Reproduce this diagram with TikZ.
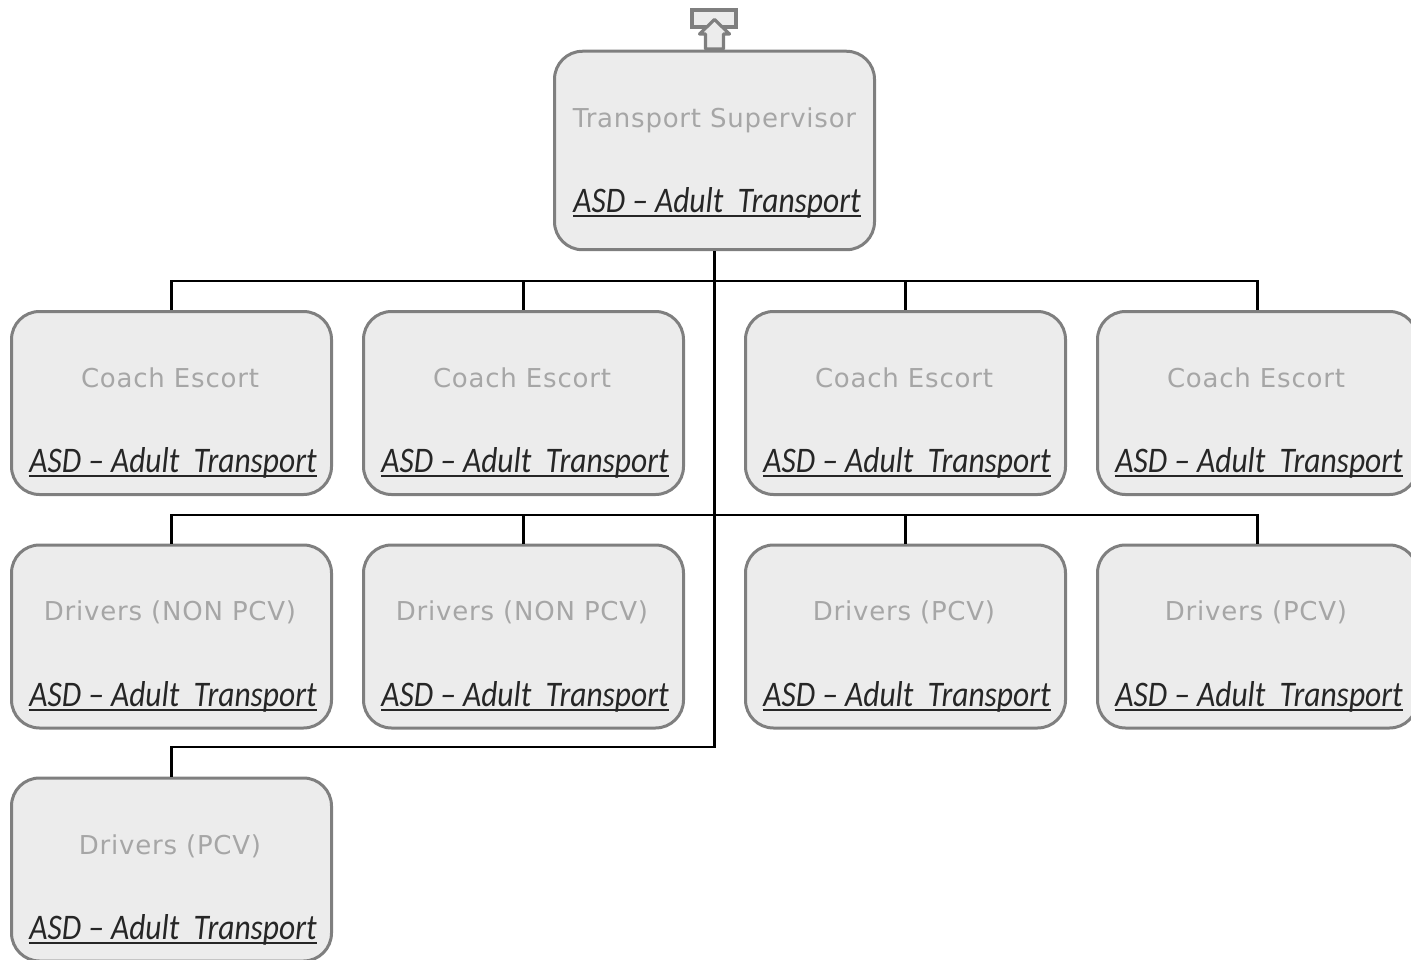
\documentclass[tikz,border=0pt]{standalone}
\usepackage{fontspec}
\usetikzlibrary{positioning}
\newfontfamily\titlefont[LetterSpace=3]{DejaVu Sans}
\newfontfamily\deptfont[FakeStretch=0.875]{Carlito}
\definecolor{boxfill}{RGB}{236,236,236}
\definecolor{boxgray}{RGB}{127,127,127}
\definecolor{titlegray}{RGB}{166,166,166}
\definecolor{deptgray}{RGB}{38,38,38}
\newsavebox{\deptbox}
\newcommand{\dept}{\sbox{\deptbox}{ASD – Adult\ \ Transport}\rlap{\rule[-4pt]{\wd\deptbox}{1.8pt}}\usebox{\deptbox}}
\tikzstyle{link} = [line width=2.8pt,color=black,line join=miter]
\tikzstyle{staff} = [rectangle, rounded corners=28pt, minimum width=320pt, minimum height=183pt, inner sep=0pt, draw=boxgray, fill=boxfill, line width=3pt]

\begin{document}
\begin{tikzpicture}[x=1pt, y=1pt,
    title/.style={inner sep=0pt, text=titlegray, font=\titlefont\fontsize{26}{30}\selectfont},
    deptname/.style={inner sep=0pt, text=deptgray, font=\deptfont\itshape\fontsize{36}{40}\selectfont},
    tray/.style={rectangle, draw=boxgray, fill=boxfill, line width=3.2pt, inner sep=0pt, minimum width=44pt, minimum height=17pt}]

\clip (0,0) rectangle (1411,-960);

% Top box
\node[staff, minimum height=198.5pt] (supervisor) at (714.5,-150.5) {};
\node[title] (supervisortitle) at (714.5,-120) {Transport Supervisor};
\node[deptname] (supervisordept) at (717,-203) {\dept};

% Return icon
\node[tray] (icontray) at (714,-18.5) {};
\draw[draw=boxgray, fill=boxfill, line width=3.2pt, line join=round]
    (705.5,-49) -- (705.5,-34) -- (699.5,-34) -- (714.5,-19.5) -- (729.5,-34) -- (723.5,-34) -- (723.5,-49) -- cycle;

% Coach escorts
\node[staff] (escort1) at (171.5,-403) {};
\node[title] (escort1title) at (170,-378) {Coach Escort};
\node[deptname] (escort1dept) at (173,-463) {\dept};
\node[staff] (escort2) at (523.5,-403) {};
\node[title] (escort2title) at (522,-378) {Coach Escort};
\node[deptname] (escort2dept) at (525,-463) {\dept};
\node[staff] (escort3) at (905.5,-403) {};
\node[title] (escort3title) at (904,-378) {Coach Escort};
\node[deptname] (escort3dept) at (907,-463) {\dept};
\node[staff] (escort4) at (1257.5,-403) {};
\node[title] (escort4title) at (1256,-378) {Coach Escort};
\node[deptname] (escort4dept) at (1259,-463) {\dept};

% Drivers, second row
\node[staff] (driver1) at (171.5,-636.5) {};
\node[title] (driver1title) at (170,-612) {Drivers (NON PCV)};
\node[deptname] (driver1dept) at (173,-697) {\dept};
\node[staff] (driver2) at (523.5,-636.5) {};
\node[title] (driver2title) at (522,-612) {Drivers (NON PCV)};
\node[deptname] (driver2dept) at (525,-697) {\dept};
\node[staff] (driver3) at (905.5,-636.5) {};
\node[title] (driver3title) at (904,-612) {Drivers (PCV)};
\node[deptname] (driver3dept) at (907,-697) {\dept};
\node[staff] (driver4) at (1257.5,-636.5) {};
\node[title] (driver4title) at (1256,-612) {Drivers (PCV)};
\node[deptname] (driver4dept) at (1259,-697) {\dept};

% Drivers, third row
\node[staff] (driver5) at (171.5,-869.5) {};
\node[title] (driver5title) at (170,-846) {Drivers (PCV)};
\node[deptname] (driver5dept) at (173,-930) {\dept};

% Bus lines
\coordinate (busa) at (714.5,-281);
\coordinate (busb) at (714.5,-515);
\coordinate (busc) at (714.5,-747);

% Connections
\draw[link] (supervisor.south) -- (busa) -| (escort1.north);
\draw[link] (supervisor.south) -- (busa) -| (escort2.north);
\draw[link] (supervisor.south) -- (busa) -| (escort3.north);
\draw[link] (supervisor.south) -- (busa) -| (escort4.north);

\draw[link] (supervisor.south) -- (busb) -| (driver1.north);
\draw[link] (supervisor.south) -- (busb) -| (driver2.north);
\draw[link] (supervisor.south) -- (busb) -| (driver3.north);
\draw[link] (supervisor.south) -- (busb) -| (driver4.north);

\draw[link] (supervisor.south) -- (busc) -| (driver5.north);
\end{tikzpicture}
\end{document}
